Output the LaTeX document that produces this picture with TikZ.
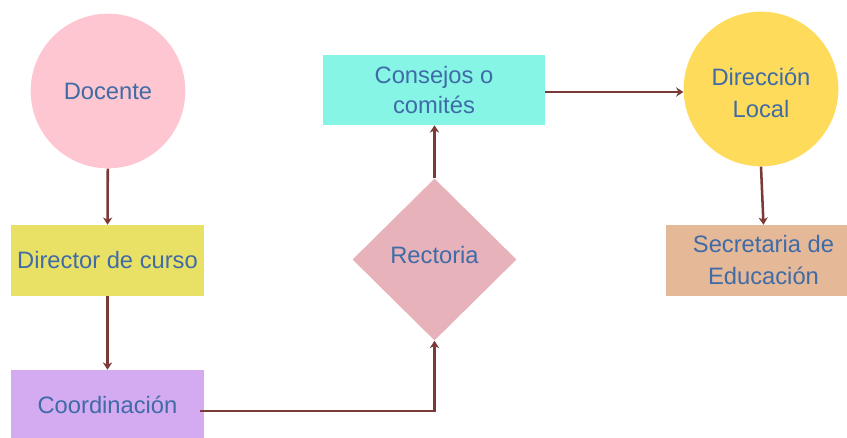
\documentclass[tikz,border=0pt]{standalone}
\usepackage{fontspec}
\setmainfont{Liberation Sans}
\usepackage{tikz}
\usetikzlibrary{arrows.meta,shapes.geometric}
\definecolor{txtblue}{HTML}{3F6BA6}
\definecolor{linebrown}{HTML}{7A3A38}
\definecolor{pinkc}{HTML}{FEC6D0}
\definecolor{yellowr}{HTML}{E9E066}
\definecolor{lilac}{HTML}{D4AAF1}
\definecolor{rosed}{HTML}{E8B2BA}
\definecolor{cyanr}{HTML}{86F5E6}
\definecolor{goldc}{HTML}{FFDB5C}
\definecolor{peach}{HTML}{E5B898}

\begin{document}
\begin{tikzpicture}[x=0.75pt,y=-0.75pt,
        every node/.style={font=\fontsize{17.8}{24}\selectfont, text=txtblue, align=center},
        blob/.style={circle, minimum size=116pt, inner sep=0pt},
        box/.style={rectangle, inner sep=0pt},
        link/.style={draw=linebrown, line width=1.9pt, -{Stealth[length=5.5pt,width=7pt]}}]
        \useasboundingbox (0,0) rectangle (847,437);
        %%Left column
        \node[blob, fill=pinkc] (docente) at (108,91) {Docente};
        \node[box, fill=yellowr, minimum width=144.75pt, minimum height=53.25pt] (director) at (107.5,260.5) {Director de curso};
        \node[box, fill=lilac, minimum width=144.75pt, minimum height=52.5pt] (coord) at (107.5,405) {Coordinación};
        %%Middle
        \node[diamond, fill=rosed, minimum width=123pt, minimum height=121.5pt, inner sep=0pt] (rectoria) at (434.5,259.5) {Rectoria\rule[-6.8pt]{0pt}{6.8pt}};
        \node[box, fill=cyanr, minimum width=166.5pt, minimum height=52.5pt, font=\fontsize{17.8}{22.5}\selectfont] (consejos) at (434,90) {Consejos o\\comités};
        %%Right column
        \node[blob, fill=goldc] (direccion) at (761,89) {\rule{0pt}{19.5pt}Dirección\\Local};
        \node[box, fill=peach, minimum width=146.25pt, minimum height=53.25pt] (secretaria) at (763.5,260.5) {Secretaria de\\Educación};
        %%Connectors
        \draw[link] (docente) -- (director);
        \draw[link] (director) -- (coord);
        \draw[link] ([xshift=-3pt,yshift=-4.5pt]coord.east) -- ([yshift=-4.5pt]coord.east -| rectoria.south) -- (rectoria.south);
        \draw[link] (rectoria.north) -- (rectoria.north |- consejos.south);
        \draw[link] ([yshift=-1.5pt]consejos.east) -- ([yshift=-1.5pt]consejos.east -| direccion.west);
        \draw[link] (direccion.south) -- (secretaria.north);
\end{tikzpicture}
\end{document}
